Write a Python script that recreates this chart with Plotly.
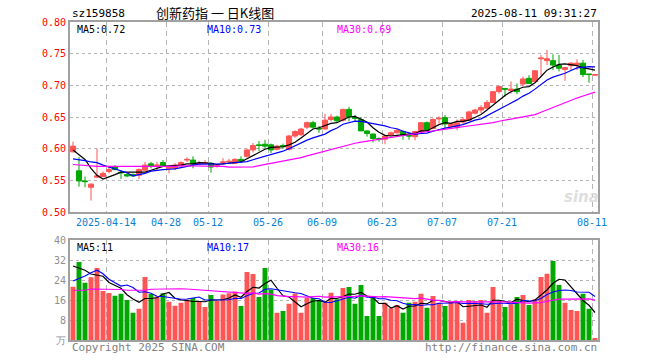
import plotly.graph_objects as go

# ---------------- data ----------------
dates = [
    "2025-04-03", "2025-04-07", "2025-04-08", "2025-04-09", "2025-04-10", "2025-04-11",
    "2025-04-14", "2025-04-15", "2025-04-16", "2025-04-17", "2025-04-18",
    "2025-04-21", "2025-04-22", "2025-04-23", "2025-04-24", "2025-04-25",
    "2025-04-28", "2025-04-29", "2025-04-30",
    "2025-05-06", "2025-05-07", "2025-05-08", "2025-05-09",
    "2025-05-12", "2025-05-13", "2025-05-14", "2025-05-15", "2025-05-16",
    "2025-05-19", "2025-05-20", "2025-05-21", "2025-05-22", "2025-05-23",
    "2025-05-26", "2025-05-27", "2025-05-28", "2025-05-29", "2025-05-30",
    "2025-06-03", "2025-06-04", "2025-06-05", "2025-06-06",
    "2025-06-09", "2025-06-10", "2025-06-11", "2025-06-12", "2025-06-13",
    "2025-06-16", "2025-06-17", "2025-06-18", "2025-06-19", "2025-06-20",
    "2025-06-23", "2025-06-24", "2025-06-25", "2025-06-26", "2025-06-27",
    "2025-06-30", "2025-07-01", "2025-07-02", "2025-07-03", "2025-07-04",
    "2025-07-07", "2025-07-08", "2025-07-09", "2025-07-10", "2025-07-11",
    "2025-07-14", "2025-07-15", "2025-07-16", "2025-07-17", "2025-07-18",
    "2025-07-21", "2025-07-22", "2025-07-23", "2025-07-24", "2025-07-25",
    "2025-07-28", "2025-07-29", "2025-07-30", "2025-07-31", "2025-08-01",
    "2025-08-04", "2025-08-05", "2025-08-06", "2025-08-07", "2025-08-08",
    "2025-08-11",
]

opens = [
    0.595, 0.565, 0.549, 0.539, 0.555, 0.556, 0.564, 0.571, 0.563, 0.559,
    0.559, 0.558, 0.566, 0.576, 0.573, 0.578, 0.569, 0.569, 0.573, 0.582,
    0.582, 0.576, 0.577, 0.577, 0.572, 0.578, 0.579, 0.577, 0.583, 0.588,
    0.598, 0.606, 0.607, 0.606, 0.599, 0.605, 0.599, 0.620, 0.622, 0.634,
    0.641, 0.632, 0.631, 0.646, 0.650, 0.645, 0.662, 0.649, 0.646, 0.628,
    0.623, 0.616, 0.615, 0.621, 0.625, 0.627, 0.621, 0.619, 0.627, 0.641,
    0.632, 0.647, 0.649, 0.635, 0.634, 0.642, 0.645, 0.656, 0.661, 0.664,
    0.673, 0.690, 0.695, 0.692, 0.694, 0.702, 0.711, 0.706, 0.742, 0.739,
    0.739, 0.732, 0.725, 0.731, 0.732, 0.735, 0.718, 0.716,
]
highs = [
    0.611, 0.587, 0.556, 0.545, 0.600, 0.564, 0.573, 0.574, 0.566, 0.562,
    0.561, 0.569, 0.579, 0.579, 0.579, 0.582, 0.572, 0.577, 0.580, 0.586,
    0.588, 0.581, 0.582, 0.578, 0.575, 0.585, 0.584, 0.585, 0.588, 0.600,
    0.609, 0.612, 0.614, 0.608, 0.606, 0.608, 0.622, 0.629, 0.633, 0.643,
    0.644, 0.636, 0.655, 0.655, 0.652, 0.663, 0.666, 0.653, 0.650, 0.629,
    0.624, 0.618, 0.621, 0.627, 0.631, 0.629, 0.624, 0.628, 0.642, 0.643,
    0.648, 0.651, 0.653, 0.641, 0.646, 0.650, 0.660, 0.663, 0.669, 0.677,
    0.691, 0.700, 0.696, 0.706, 0.703, 0.714, 0.716, 0.724, 0.748, 0.756,
    0.749, 0.748, 0.729, 0.737, 0.741, 0.740, 0.718, 0.718,
]
lows = [
    0.594, 0.540, 0.539, 0.518, 0.554, 0.555, 0.561, 0.566, 0.552, 0.555,
    0.556, 0.552, 0.565, 0.569, 0.566, 0.572, 0.561, 0.566, 0.572, 0.579,
    0.569, 0.574, 0.575, 0.562, 0.570, 0.575, 0.576, 0.576, 0.578, 0.586,
    0.594, 0.596, 0.600, 0.593, 0.597, 0.600, 0.597, 0.617, 0.620, 0.631,
    0.632, 0.625, 0.630, 0.643, 0.642, 0.643, 0.643, 0.643, 0.628, 0.619,
    0.610, 0.611, 0.607, 0.620, 0.624, 0.614, 0.614, 0.613, 0.626, 0.628,
    0.631, 0.640, 0.632, 0.634, 0.629, 0.639, 0.644, 0.654, 0.656, 0.663,
    0.672, 0.687, 0.682, 0.687, 0.686, 0.698, 0.702, 0.705, 0.716, 0.732,
    0.724, 0.722, 0.707, 0.724, 0.724, 0.713, 0.704, 0.715,
]
closes = [
    0.604, 0.549, 0.548, 0.544, 0.557, 0.561, 0.567, 0.567, 0.562, 0.557,
    0.557, 0.567, 0.574, 0.573, 0.574, 0.573, 0.571, 0.574, 0.578, 0.583,
    0.576, 0.577, 0.578, 0.571, 0.573, 0.579, 0.580, 0.583, 0.581, 0.598,
    0.605, 0.605, 0.604, 0.598, 0.604, 0.603, 0.620, 0.627, 0.631, 0.641,
    0.634, 0.631, 0.645, 0.650, 0.644, 0.662, 0.650, 0.648, 0.628, 0.624,
    0.616, 0.615, 0.620, 0.625, 0.629, 0.621, 0.620, 0.627, 0.641, 0.629,
    0.646, 0.648, 0.639, 0.639, 0.641, 0.646, 0.658, 0.661, 0.665, 0.673,
    0.690, 0.698, 0.694, 0.694, 0.690, 0.710, 0.703, 0.723, 0.743, 0.742,
    0.732, 0.727, 0.728, 0.735, 0.735, 0.717, 0.717, 0.717,
]
volumes = [
    21.3, 31.2, 22.9, 25.1, 28.8, 19.6, 18.8, 17.7, 18.5, 16.0,
    10.9, 12.5, 25.2, 18.4, 17.4, 18.7, 15.3, 13.7, 14.9, 16.2,
    16.8, 15.6, 13.2, 18.0, 15.7, 18.2, 18.7, 19.4, 13.6, 27.2,
    26.4, 17.2, 28.8, 20.1, 10.9, 11.6, 14.5, 18.6, 10.9, 16.9,
    16.9, 15.9, 15.0, 18.9, 16.3, 20.8, 21.2, 14.5, 22.0, 9.6,
    17.4, 9.6, 14.9, 12.7, 14.0, 10.9, 14.9, 15.3, 18.5, 12.9,
    17.6, 14.9, 13.6, 15.3, 15.6, 6.9, 16.0, 15.6, 16.0, 10.9,
    21.2, 15.6, 13.2, 14.3, 17.2, 18.0, 14.0, 16.3, 25.2, 26.5,
    31.6, 22.0, 14.9, 12.0, 11.6, 18.5, 12.5, 0.5,
]
ma5 = [
    0.598, 0.590, 0.583, 0.569, 0.558, 0.552, 0.555, 0.559, 0.563, 0.563,
    0.562, 0.562, 0.563, 0.566, 0.569, 0.572, 0.573, 0.573, 0.574, 0.576,
    0.576, 0.578, 0.578, 0.577, 0.575, 0.576, 0.576, 0.577, 0.579, 0.584,
    0.589, 0.594, 0.599, 0.602, 0.603, 0.603, 0.606, 0.610, 0.617, 0.624,
    0.631, 0.633, 0.636, 0.640, 0.641, 0.646, 0.650, 0.651, 0.646, 0.642,
    0.633, 0.626, 0.621, 0.620, 0.621, 0.622, 0.623, 0.624, 0.628, 0.628,
    0.633, 0.638, 0.641, 0.640, 0.643, 0.643, 0.645, 0.649, 0.654, 0.661,
    0.669, 0.677, 0.684, 0.690, 0.693, 0.697, 0.698, 0.704, 0.714, 0.724,
    0.729, 0.733, 0.734, 0.733, 0.731, 0.728, 0.726, 0.724,
]
ma10 = [
    0.584, 0.583, 0.581, 0.579, 0.578, 0.574, 0.571, 0.568, 0.565, 0.562,
    0.557, 0.5585, 0.561, 0.5645, 0.566, 0.567, 0.5675, 0.568, 0.570, 0.5725,
    0.574, 0.5755, 0.5755, 0.5755, 0.5755, 0.576, 0.577, 0.5775, 0.578, 0.5795,
    0.5825, 0.585, 0.588, 0.5905, 0.5935, 0.596, 0.600, 0.6045, 0.6095, 0.6135,
    0.617, 0.6195, 0.623, 0.6285, 0.6325, 0.6385, 0.6415, 0.6435, 0.643, 0.6415,
    0.6395, 0.638, 0.636, 0.633, 0.6315, 0.6275, 0.6245, 0.6225, 0.624, 0.6245,
    0.6275, 0.6305, 0.6325, 0.634, 0.6355, 0.638, 0.6415, 0.645, 0.647, 0.652,
    0.656, 0.661, 0.6665, 0.672, 0.677, 0.683, 0.6875, 0.694, 0.702, 0.7085,
    0.713, 0.7155, 0.719, 0.7235, 0.7275, 0.7285, 0.7295, 0.729,
]
ma30 = [
    0.575, 0.574, 0.573, 0.573, 0.572, 0.572, 0.572, 0.572, 0.572, 0.571,
    0.571, 0.571, 0.571, 0.571, 0.572, 0.572, 0.572, 0.572, 0.573, 0.573,
    0.573, 0.573, 0.573, 0.572, 0.572, 0.572, 0.571, 0.571, 0.571, 0.5712,
    0.5712, 0.5731, 0.5750, 0.5768, 0.5783, 0.5797, 0.5815, 0.5835, 0.5858, 0.5886,
    0.5912, 0.5933, 0.5957, 0.5982, 0.6006, 0.6035, 0.6062, 0.6086, 0.6103, 0.6117,
    0.6130, 0.6143, 0.6157, 0.6175, 0.6193, 0.6207, 0.6221, 0.6235, 0.6255, 0.6266,
    0.6279, 0.6294, 0.6305, 0.6319, 0.6331, 0.6346, 0.6358, 0.6370, 0.6381, 0.6392,
    0.6410, 0.6433, 0.6449, 0.6464, 0.6479, 0.6495, 0.6513, 0.6538, 0.6576, 0.6615,
    0.6654, 0.6691, 0.6727, 0.6764, 0.6799, 0.6831, 0.6863, 0.6893,
]
vma5 = [
    29.6, 28.8, 27.9, 26.4, 25.9, 25.5, 23.0, 22.0, 20.7, 18.1,
    16.4, 15.1, 16.6, 16.6, 16.9, 18.4, 19.0, 16.7, 16.0, 15.8,
    15.4, 15.4, 15.3, 16.0, 15.9, 16.1, 16.8, 18.0, 17.1, 19.4,
    21.1, 20.8, 22.6, 23.9, 20.7, 17.7, 17.2, 15.1, 13.3, 14.5,
    15.6, 15.8, 15.1, 16.7, 16.6, 17.4, 18.4, 18.3, 19.0, 17.6,
    16.9, 14.6, 14.7, 12.8, 13.7, 12.4, 13.5, 13.6, 14.7, 14.5,
    15.8, 15.8, 15.5, 14.9, 15.4, 13.3, 13.5, 13.9, 14.0, 13.1,
    15.9, 15.9, 15.4, 15.0, 16.3, 15.7, 15.3, 16.0, 18.1, 20.0,
    22.7, 24.3, 24.0, 21.4, 18.4, 15.8, 13.9, 11.0,
]
vma10 = [
    23.6, 24.5, 25.6, 26.9, 27.9, 26.5, 24.3, 22.9, 21.6, 22.0,
    21.0, 19.1, 19.3, 18.7, 17.5, 17.4, 17.1, 16.7, 16.3, 16.4,
    16.9, 17.2, 16.0, 16.0, 15.9, 15.8, 16.1, 16.7, 16.6, 17.7,
    18.6, 18.8, 20.3, 20.5, 20.1, 19.4, 19.0, 18.9, 18.6, 17.6,
    16.7, 16.5, 15.1, 15.0, 15.6, 16.5, 17.1, 16.7, 17.9, 17.1,
    17.2, 16.5, 16.5, 15.9, 15.7, 14.7, 14.1, 14.2, 13.8, 14.1,
    14.1, 14.7, 14.6, 14.8, 15.0, 14.6, 14.7, 14.7, 14.5, 14.3,
    14.6, 14.7, 14.7, 14.5, 14.7, 15.8, 15.6, 15.7, 16.6, 18.2,
    19.2, 19.8, 20.0, 19.8, 19.2, 19.3, 19.1, 17.4,
]
vma30 = [
    19.9, 19.9, 19.9, 20.4, 20.4, 20.4, 20.2, 20.2, 20.2, 19.9,
    19.9, 19.9, 19.9, 20.3, 20.4, 20.5, 20.6, 20.6, 20.5, 20.4,
    20.2, 20.1, 20.0, 19.7, 19.5, 19.3, 19.1, 19.0, 18.8, 18.65,
    18.82, 18.35, 18.55, 18.38, 17.78, 17.52, 17.37, 17.40, 17.15, 17.18,
    17.38, 17.49, 17.15, 17.17, 17.13, 17.20, 17.40, 17.43, 17.66, 17.44,
    17.46, 17.26, 17.32, 17.14, 17.08, 16.84, 16.71, 16.57, 16.74, 16.26,
    15.97, 15.89, 15.39, 15.23, 15.39, 15.23, 15.28, 15.18, 15.35, 15.15,
    15.29, 15.28, 15.22, 15.07, 15.10, 15.01, 14.77, 14.83, 14.94, 15.50,
    15.97, 16.38, 16.38, 16.36, 16.28, 16.53, 16.45, 15.96,
]

tick_dates = ["2025-04-14", "2025-04-28", "2025-05-12", "2025-05-26", "2025-06-09",
              "2025-06-23", "2025-07-07", "2025-07-21", "2025-08-11"]
tick_labels = ["2025-04-14", "04-28", "05-12", "05-26", "06-09",
               "06-23", "07-07", "07-21", "08-11"]

price_ticks = [0.50, 0.55, 0.60, 0.65, 0.70, 0.75, 0.80]
price_tick_labels = ["0.50", "0.55", "0.60", "0.65", "0.70", "0.75", "0.80"]
vol_ticks = [0, 8, 16, 24, 32, 40]
vol_tick_labels = ["万", "8", "16", "24", "32", "40"]

# ---------------- styling ----------------
W, H = 660, 360
MONO = "DejaVu Sans Mono"
RED = "#ff5555"
GREEN = "#00a800"
FRAME = "#a0a0a0"
GRID = "#b4b4b4"
DATE_BLUE = "#0a7fd4"


def px(x):
    return x / W


def py(y):
    return 1 - y / H


idx = list(range(len(dates)))
x_dom = [px(70), px(598)]
x_rng = [-0.5, len(dates) - 0.5]
grid_pos = [dates.index(d) - 0.5 for d in tick_dates]

fig = go.Figure()

fig.add_trace(go.Candlestick(
    x=idx, open=opens, high=highs, low=lows, close=closes,
    increasing=dict(line=dict(color=RED, width=1), fillcolor=RED),
    decreasing=dict(line=dict(color=GREEN, width=1), fillcolor=GREEN),
    whiskerwidth=0, showlegend=False, hoverinfo="skip",
    xaxis="x", yaxis="y",
))
for series, color in ((ma5, "#000000"), (ma10, "#0000ff"), (ma30, "#ff00ff")):
    fig.add_trace(go.Scatter(x=idx, y=series, mode="lines",
                             line=dict(color=color, width=1.2),
                             showlegend=False, hoverinfo="skip",
                             xaxis="x", yaxis="y"))

bar_colors = [RED if c >= o else GREEN for o, c in zip(opens, closes)]
fig.add_trace(go.Bar(x=idx, y=volumes, marker=dict(color=bar_colors, line=dict(width=0)),
                     width=0.82, showlegend=False, hoverinfo="skip",
                     xaxis="x2", yaxis="y2"))
for series, color in ((vma5, "#000000"), (vma10, "#0000ff"), (vma30, "#ff00ff")):
    fig.add_trace(go.Scatter(x=idx, y=series, mode="lines",
                             line=dict(color=color, width=1.2),
                             showlegend=False, hoverinfo="skip",
                             xaxis="x2", yaxis="y2"))

common_x = dict(range=x_rng, domain=x_dom, tickmode="array", tickvals=grid_pos,
                showgrid=True, gridcolor=GRID, griddash="5px,4px", gridwidth=1,
                showline=True, mirror=True, linecolor=FRAME, linewidth=2,
                zeroline=False, ticks="", fixedrange=True, automargin=False)

fig.update_layout(
    template="none",
    width=W, height=H, autosize=False,
    margin=dict(l=0, r=0, t=0, b=0, pad=0),
    paper_bgcolor="white", plot_bgcolor="white",
    font=dict(family=MONO, size=10, color="#000000"),
    boxgap=0.15, boxgroupgap=0.0,
    bargap=0.15,
    showlegend=False,
    xaxis=dict(common_x, anchor="y", ticktext=tick_labels,
               tickfont=dict(family=MONO, size=10, color=DATE_BLUE),
               rangeslider=dict(visible=False)),
    yaxis=dict(domain=[py(212), py(22)], range=[0.5, 0.8], anchor="x",
               tickmode="array", tickvals=price_ticks, ticktext=price_tick_labels,
               tickfont=dict(family=MONO, size=10, color="#ff0000"),
               showgrid=True, gridcolor=GRID, griddash="dot", gridwidth=1,
               showline=True, mirror=True, linecolor=FRAME, linewidth=2,
               zeroline=False, ticks="", fixedrange=True, automargin=False),
    xaxis2=dict(common_x, anchor="y2", ticktext=tick_labels, showticklabels=False),
    yaxis2=dict(domain=[py(340), py(240)], range=[0, 40], anchor="x2",
                tickmode="array", tickvals=vol_ticks, ticktext=vol_tick_labels,
                tickfont=dict(family=MONO, size=10, color="#909090"),
                showgrid=True, gridcolor=GRID, griddash="dot", gridwidth=1,
                showline=True, mirror=True, linecolor=FRAME, linewidth=2,
                zeroline=False, ticks="", fixedrange=True, automargin=False),
)


def label(x, y, text, color="#000000", size=10, anchor="left", family=MONO):
    fig.add_annotation(xref="paper", yref="paper", x=px(x), y=py(y), text=text,
                       showarrow=False, xanchor=anchor, yanchor="middle",
                       font=dict(family=family, size=size, color=color))


label(70, 14, "sz159858", size=11)
label(215, 13, "创新药指 一 日K线图", size=13, anchor="center",
      family="Noto Sans CJK SC")
label(599, 14, "2025-08-11 09:31:27", size=11, anchor="right")

label(75, 29, f"MA5:{ma5[-1]:.2f}")
label(205, 29, f"MA10:{ma10[-1]:.2f}", color="#0000ff")
label(335, 29, f"MA30:{ma30[-1]:.2f}", color="#ff00ff")

label(75, 247, f"MA5:{vma5[-1]:.0f}")
label(205, 247, f"MA10:{vma10[-1]:.0f}", color="#0000ff")
label(335, 247, f"MA30:{vma30[-1]:.0f}", color="#ff00ff")

label(70, 347, "Copyright 2025 SINA.COM", color="#808080", size=11)
label(599, 347, "http://finance.sina.com.cn", color="#808080", size=11, anchor="right")

# watermark
label(581, 197, "<b><i>sina</i></b>", color="#dedede", size=15, anchor="center",
      family="DejaVu Sans")

fig.write_html(
    "out.html",
    config={"displayModeBar": False},
    post_script="document.body.style.margin='0';document.body.style.padding='0';",
)
